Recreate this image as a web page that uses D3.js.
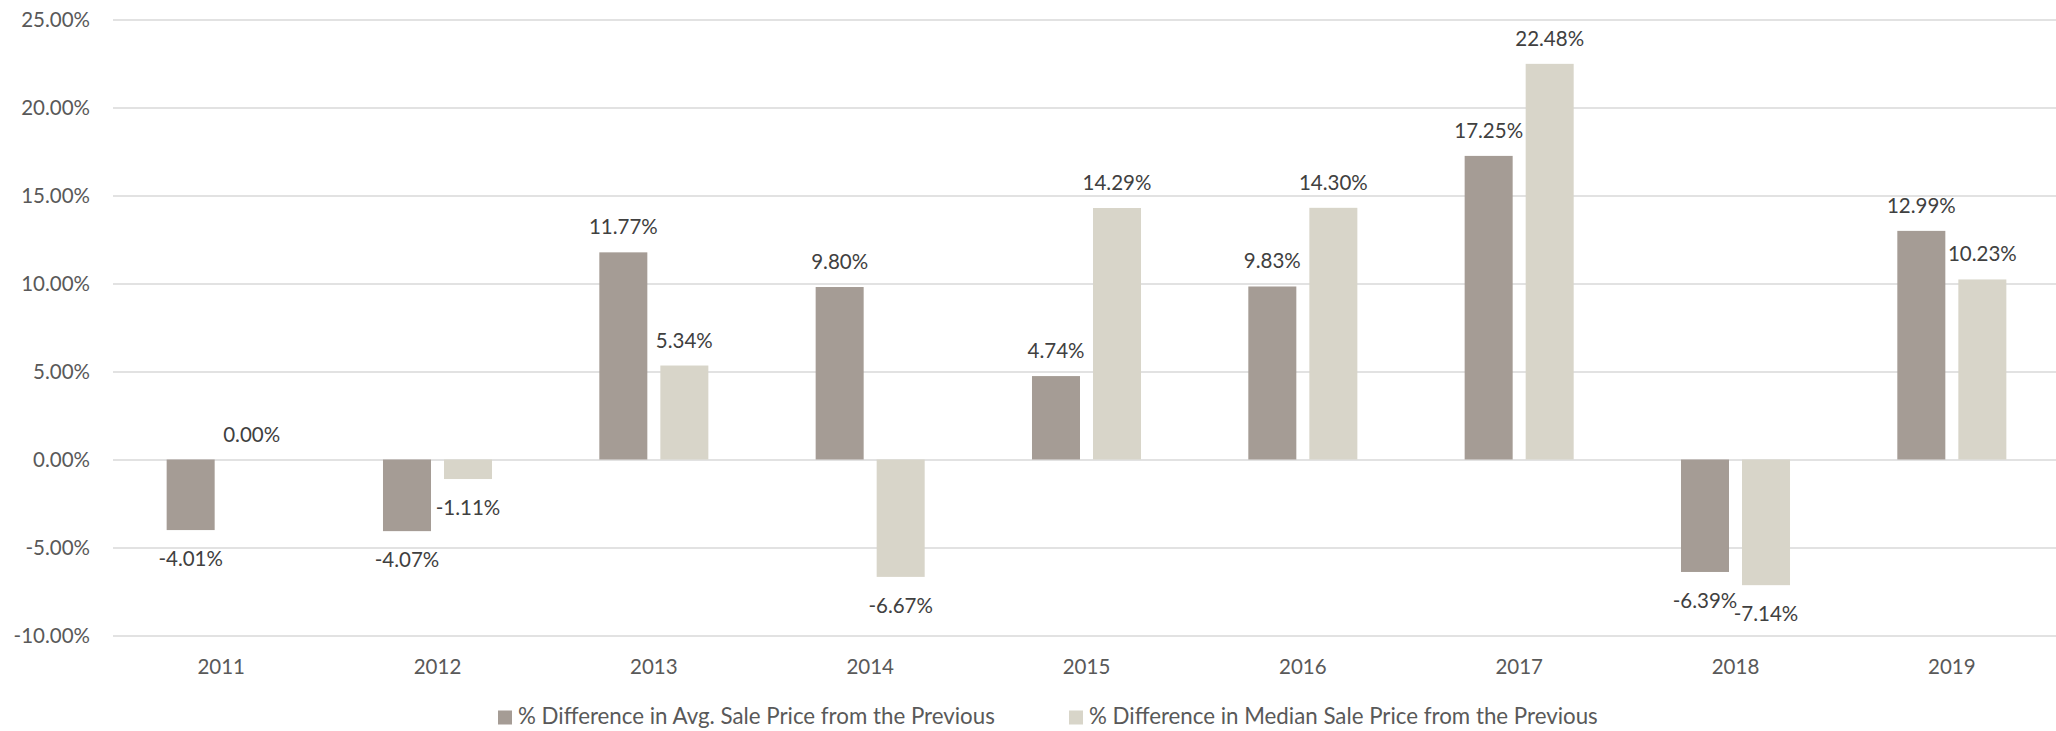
<!DOCTYPE html>
<html>
<head>
<meta charset="utf-8">
<script src="https://cdn.jsdelivr.net/npm/d3@7"></script>
<style>
  body { margin: 0; background: #fff; }
  svg { display: block; font-family: Lato, "Open Sans", sans-serif; }
</style>
</head>
<body>
<svg width="2056" height="731"></svg>
<script>
// chart data
const years = ["2011", "2012", "2013", "2014", "2015", "2016", "2017", "2018", "2019"];
const avgDiff = [-0.0401, -0.0407, 0.1177, 0.0980, 0.0474, 0.0983, 0.1725, -0.0639, 0.1299];
const medianDiff = [0.0000, -0.0111, 0.0534, -0.0667, 0.1429, 0.1430, 0.2248, -0.0714, 0.1023];
const seriesNames = [
    "% Difference in Avg. Sale Price from the Previous",
    "% Difference in Median Sale Price from the Previous"
];
const colors = ["#a59c95", "#d8d5c9"];
const yTicks = [-0.10, -0.05, 0, 0.05, 0.10, 0.15, 0.20, 0.25];

const svg = d3.select("svg"),
    width = +svg.attr("width");

const plotLeft = 113, plotRight = 2060, plotTop = 19.5, plotBottom = 635.5;

const x0 = d3.scaleBand()
    .domain(years)
    .range([plotLeft, plotRight])
    .paddingInner(0.496)
    .paddingOuter(0.248);

const x1 = d3.scaleBand()
    .domain([0, 1])
    .range([0, x0.bandwidth()])
    .paddingInner(13 / 61);

const y = d3.scaleLinear()
    .domain([-0.10, 0.25])
    .range([plotBottom, plotTop]);

// plain hyphen for negatives, like the original
const locale = d3.formatLocale({ decimal: ".", thousands: ",", grouping: [3], currency: ["$", ""], minus: "-" });
const fmt = locale.format(".2%");

// y axis + gridlines
const yAxis = svg.append("g")
    .attr("transform", "translate(" + plotLeft + ",0)")
    .call(d3.axisLeft(y)
        .tickValues(yTicks)
        .tickFormat(fmt)
        .tickSize(-(width - plotLeft))
        .tickPadding(23));
yAxis.select(".domain").remove();
yAxis.selectAll(".tick line").attr("stroke", "#d9d9d9").attr("stroke-width", 1.5);
yAxis.selectAll(".tick text")
    .attr("fill", "#595959")
    .style("font-size", "20.5px")
    .style("font-family", "Lato, 'Open Sans', sans-serif");

// x axis labels
const xAxis = svg.append("g")
    .attr("transform", "translate(0," + plotBottom + ")")
    .call(d3.axisBottom(x0).tickSize(0).tickPadding(24));
xAxis.select(".domain").remove();
xAxis.selectAll(".tick text")
    .attr("fill", "#595959")
    .style("font-size", "20.5px")
    .style("font-family", "Lato, 'Open Sans', sans-serif");

// bars
const rows = years.map((yr, i) => ({ year: yr, values: [avgDiff[i], medianDiff[i]] }));

const group = svg.append("g").selectAll("g")
    .data(rows)
    .join("g")
    .attr("transform", d => "translate(" + x0(d.year) + ",0)");

const cells = group.selectAll("g")
    .data(d => d.values.map((v, k) => ({ v, k })))
    .join("g");

cells.append("rect")
    .attr("x", d => x1(d.k))
    .attr("width", x1.bandwidth())
    .attr("y", d => y(Math.max(0, d.v)))
    .attr("height", d => Math.abs(y(d.v) - y(0)))
    .attr("fill", d => colors[d.k]);

cells.append("text")
    .attr("x", d => x1(d.k) + x1.bandwidth() / 2)
    .attr("y", d => d.v >= 0 ? y(d.v) - 18 : y(d.v) + 36)
    .attr("text-anchor", "middle")
    .attr("fill", "#404040")
    .style("font-size", "20.5px")
    .text(d => fmt(d.v));

// legend
const legendX = [498, 1069];
const legend = svg.append("g").selectAll("g")
    .data(seriesNames)
    .join("g")
    .attr("transform", (d, i) => "translate(" + legendX[i] + ",717.5)");

legend.append("rect")
    .attr("x", 0)
    .attr("y", -7)
    .attr("width", 14)
    .attr("height", 14)
    .attr("fill", (d, i) => colors[i]);

legend.append("text")
    .attr("x", 20)
    .attr("y", 6.5)
    .attr("fill", "#595959")
    .style("font-size", "22.3px")
    .text(d => d);
</script>
</body>
</html>
